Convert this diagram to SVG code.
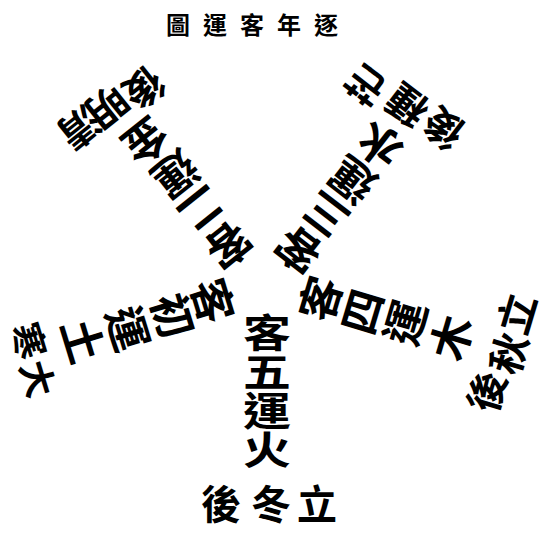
<svg xmlns="http://www.w3.org/2000/svg" width="559" height="541" viewBox="0 0 559 541">
<style>
text{font-family:"Noto Sans CJK TC","Noto Sans CJK SC",sans-serif;fill:#000;text-anchor:middle;dominant-baseline:central;font-weight:700}
.arm{font-size:44px}
.armb{font-size:42px;writing-mode:vertical-rl}
.lab{font-size:40px}
.labs{font-size:36px}
.title{font-size:24px;text-anchor:start;dominant-baseline:auto}
</style>
<rect width="559" height="541" fill="#fff"/>
<g id="title"><text class="title" x="166" y="34" letter-spacing="13">圖運客年逐</text></g>
<g id="arm-bottom">
<text class="armb" transform="translate(267,391) scale(1.14,0.93)">客五運火</text>
</g>
<g id="label-bottom">
<text class="lab" transform="translate(221,502)">後</text>
<text class="lab" transform="translate(271,502)">冬</text>
<text class="lab" transform="translate(317,502)">立</text>
</g>
<g id="arm-right">
<text class="arm" transform="translate(318,298) rotate(-73.4)">客</text>
<text class="arm" transform="translate(360,311) rotate(-73.4)">四</text>
<text class="arm" transform="translate(403,322) rotate(-73.4)">運</text>
<text class="arm" transform="translate(449,337) rotate(-73.4)">木</text>
</g>
<g id="label-right">
<text class="lab" transform="translate(515,313) rotate(-73.4)">立</text>
<text class="lab" transform="translate(507,353) rotate(-73.4)">秋</text>
<text class="lab" transform="translate(485,391) rotate(-73.4)">後</text>
</g>
<g id="arm-upper-right">
<text class="arm" transform="translate(297,252) rotate(-142.4)">客</text>
<text class="arm" transform="translate(324,217) rotate(-142.4)">三</text>
<text class="arm" transform="translate(351,182) rotate(-142.4)">運</text>
<text class="arm" transform="translate(378,147) rotate(-142.4)">水</text>
</g>
<g id="label-upper-right">
<text class="lab" transform="translate(365,86) rotate(-142.4)">芒</text>
<text class="lab" transform="translate(406,107) rotate(-142.4)">種</text>
<text class="lab" transform="translate(442,130) rotate(-142.4)">後</text>
</g>
<g id="arm-upper-left">
<text class="arm" transform="translate(230,247) rotate(141.4)">客</text>
<text class="arm" transform="translate(203,211) rotate(141.4)">二</text>
<text class="arm" transform="translate(177,176) rotate(141.4)">運</text>
<text class="arm" transform="translate(147,143) rotate(141.4)">金</text>
</g>
<g id="label-upper-left">
<text class="lab" transform="translate(81,129) rotate(141.4)">清</text>
<text class="lab" transform="translate(109,108) rotate(141.4)">明</text>
<text class="lab" transform="translate(145,90) rotate(141.4)">後</text>
</g>
<g id="arm-left">
<text class="arm" transform="translate(215,300) rotate(73)">客</text>
<text class="arm" transform="translate(175,315) rotate(73)">初</text>
<text class="arm" transform="translate(130,328) rotate(73)">運</text>
<text class="arm" transform="translate(85,340) rotate(73)">土</text>
</g>
<g id="label-left">
<text class="labs" transform="translate(40,378) rotate(73)">大</text>
<text class="labs" transform="translate(31,340) rotate(73)">寒</text>
</g>
</svg>
